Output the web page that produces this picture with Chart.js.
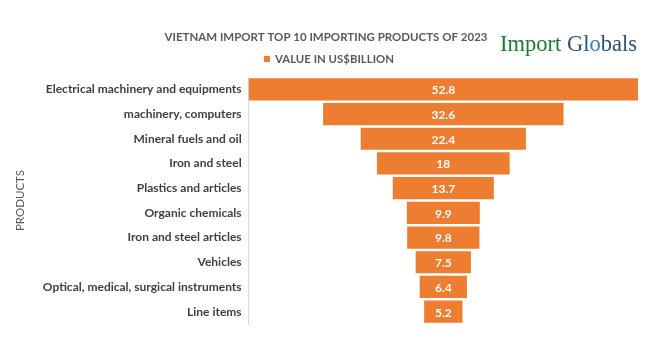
<!DOCTYPE html>
<html>
<head>
<meta charset="utf-8">
<script src="https://cdn.jsdelivr.net/npm/chart.js@4"></script>
<style>
  body { margin: 0; background: #fff; }
  #wrap { width: 650px; height: 350px; }
</style>
</head>
<body>
<div id="wrap"><canvas id="myChart" width="650" height="350"></canvas></div>
<script>
var categories = [
  "Electrical machinery and equipments",
  "machinery, computers",
  "Mineral fuels and oil",
  "Iron and steel",
  "Plastics and articles",
  "Organic chemicals",
  "Iron and steel articles",
  "Vehicles",
  "Optical, medical, surgical instruments",
  "Line items"
];
var values = [52.8, 32.6, 22.4, 18, 13.7, 9.9, 9.8, 7.5, 6.4, 5.2];
var seriesName = "VALUE IN US$BILLION";
var chartTitle = "VIETNAM IMPORT TOP 10 IMPORTING PRODUCTS OF 2023";

var maxV = Math.max.apply(null, values);
// funnel: each bar floats around the middle of the scale
var funnel = values.map(function(v){ return [(maxV - v) / 2, (maxV + v) / 2]; });

var orange = '#ED7D31';
var font = 'Lato, "Open Sans", sans-serif';

// header: title, legend entry and logo text
var header = {
  id: 'header',
  afterDraw: function(chart){
    var ctx = chart.ctx;
    ctx.save();
    ctx.fillStyle = '#595959';
    ctx.font = 'bold 12px ' + font;
    ctx.textAlign = 'center';
    ctx.textBaseline = 'middle';
    ctx.fillText(chartTitle, 326, 37, 323);

    ctx.fillStyle = orange;
    ctx.fillRect(264, 56, 6, 6);
    ctx.fillStyle = '#595959';
    ctx.textAlign = 'left';
    ctx.fillText(seriesName, 275, 59, 119);

    // logo text, squeezed to its width in the picture
    var parts = [["Import ", '#1e7b34'], ["Gl", '#2f4f6f'], ["o", '#2a7fb8'], ["bals", '#2f4f6f']];
    ctx.font = '24px "Liberation Serif", "DejaVu Serif", serif';
    ctx.textBaseline = 'alphabetic';
    var full = ctx.measureText("Import Globals").width;
    var sx = 137 / full;
    ctx.translate(500, 51);
    ctx.scale(sx, 1);
    var x = 0;
    parts.forEach(function(p){
      ctx.fillStyle = p[1];
      ctx.fillText(p[0], x, 0);
      x += ctx.measureText(p[0]).width;
    });
    ctx.restore();
  }
};

// value labels inside bars
var barLabels = {
  id: 'barLabels',
  afterDatasetsDraw: function(chart){
    var ctx = chart.ctx;
    var meta = chart.getDatasetMeta(0);
    ctx.save();
    ctx.fillStyle = '#fff';
    ctx.font = 'bold 12px ' + font;
    ctx.textAlign = 'center';
    ctx.textBaseline = 'middle';
    meta.data.forEach(function(bar, i){
      var cx = (bar.x + bar.base) / 2;
      ctx.fillText(String(values[i]), cx, bar.y + 1);
    });
    ctx.restore();
  }
};

var myChart = new Chart(document.getElementById("myChart"), {
  type: 'bar',
  data: {
    labels: categories,
    datasets: [
      {
        label: seriesName,
        data: funnel,
        backgroundColor: orange,
        borderWidth: 0,
        barPercentage: 0.9,
        categoryPercentage: 1
      }
    ]
  },
  options: {
    responsive: false,
    animation: false,
    indexAxis: 'y',
    layout: {
      padding: {top: 77, right: 12, bottom: 26, left: 13}
    },
    scales: {
      x: {
        display: false,
        min: 0,
        max: maxV
      },
      y: {
        grid: {display: false, drawTicks: false},
        border: {display: true, color: '#d9d9d9'},
        ticks: {
          color: '#404040',
          font: {family: font, size: 12, weight: 'bold'},
          padding: 7
        },
        title: {
          display: true,
          text: 'PRODUCTS',
          color: '#595959',
          font: {family: font, size: 11.5},
          padding: {top: 0, bottom: 9}
        }
      }
    },
    plugins: {
      legend: {display: false},
      tooltip: {enabled: false}
    }
  },
  plugins: [header, barLabels]
});
</script>
</body>
</html>
